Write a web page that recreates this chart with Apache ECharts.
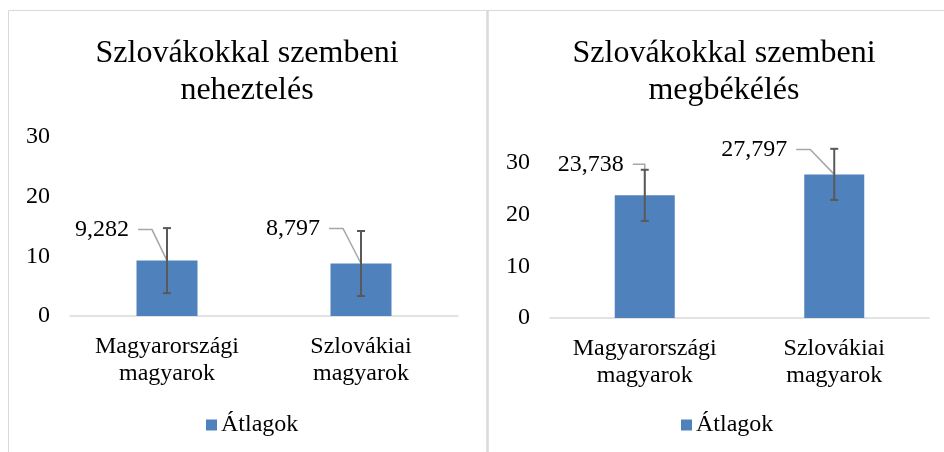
<!DOCTYPE html>
<html>
<head>
<meta charset="utf-8">
<script src="https://cdn.jsdelivr.net/npm/echarts@6/dist/echarts.min.js"></script>
<style>
html, body { margin: 0; padding: 0; background: #fff; }
#main { width: 944px; height: 452px; }
</style>
</head>
<body>
<div id="main"></div>
<script>
// adatok
var categories = ['Magyarországi\nmagyarok', 'Szlovákiai\nmagyarok'];
var yTicks = [0, 10, 20, 30];
var resentMeans = [9.282, 8.797];
var resentErrors = [5.45, 5.45];
var reconcileMeans = [23.738, 27.797];
var reconcileErrors = [4.95, 4.95];
var titles = ['Szlovákokkal szembeni\nneheztelés', 'Szlovákokkal szembeni\nmegbékélés'];
var seriesName = 'Átlagok';

// címkék eltolása az oszlop tetejéhez képest (px)
var labelOffsets = [
    [[-38, -31], [-41, -35]],
    [[-21, -31], [-47, -25]]
];

var FONT = '"Liberation Serif", "Times New Roman", serif';
var BAR_COLOR = '#4f81bd';

var chart = echarts.init(document.getElementById('main'));

function fmt(v) {
    return v.toFixed(3).replace('.', ',');
}

// hibasáv + adatcímke vezetővonallal
function makeRenderItem(offsets) {
    return function (params, api) {
        var idx = api.value(0);
        var mean = api.value(1);
        var err = api.value(2);
        var top = api.coord([idx, mean]);
        var hi = api.coord([idx, mean + err]);
        var lo = api.coord([idx, mean - err]);
        var off = offsets[params.dataIndex];
        var tx = top[0] + off[0];
        var ty = top[1] + off[1];
        var x1 = tx + 9;
        var x2 = Math.min(tx + 23, top[0]);
        var cap = 4;
        return {
            type: 'group',
            children: [
                {
                    type: 'polyline',
                    shape: {points: [[x1, ty], [x2, ty], [top[0], top[1]]]},
                    style: {stroke: '#a6a6a6', lineWidth: 1.5, fill: null}
                },
                {
                    type: 'line',
                    shape: {x1: hi[0], y1: hi[1], x2: lo[0], y2: lo[1]},
                    style: {stroke: '#595959', lineWidth: 2}
                },
                {
                    type: 'line',
                    shape: {x1: hi[0] - cap, y1: hi[1], x2: hi[0] + cap, y2: hi[1]},
                    style: {stroke: '#595959', lineWidth: 2}
                },
                {
                    type: 'line',
                    shape: {x1: lo[0] - cap, y1: lo[1], x2: lo[0] + cap, y2: lo[1]},
                    style: {stroke: '#595959', lineWidth: 2}
                },
                {
                    type: 'text',
                    x: tx,
                    y: ty,
                    style: {
                        text: fmt(mean),
                        font: '24px ' + FONT,
                        fill: '#000',
                        align: 'right',
                        verticalAlign: 'middle'
                    }
                }
            ]
        };
    };
}

function errData(means, errors) {
    return means.map(function (m, i) {
        return [i, m, errors[i]];
    });
}

function xAxisOpt(gridIndex) {
    return {
        type: 'category',
        gridIndex: gridIndex,
        data: categories,
        axisTick: {show: false},
        axisLine: {lineStyle: {color: '#d9d9d9', width: 1.5}},
        axisLabel: {
            color: '#000',
            fontSize: 24,
            fontFamily: FONT,
            lineHeight: 27,
            margin: 17,
            interval: 0
        }
    };
}

function yAxisOpt(gridIndex) {
    return {
        type: 'value',
        gridIndex: gridIndex,
        min: yTicks[0],
        max: yTicks[yTicks.length - 1],
        interval: 10,
        axisLine: {show: false},
        axisTick: {show: false},
        splitLine: {show: false},
        axisLabel: {color: '#000', fontSize: 24, fontFamily: FONT, margin: 20}
    };
}

function titleOpt(text, x) {
    return {
        text: text,
        left: x,
        top: 35,
        textAlign: 'center',
        padding: 0,
        textStyle: {
            fontFamily: FONT,
            fontWeight: 'normal',
            fontSize: 32,
            lineHeight: 37,
            color: '#000'
        }
    };
}

function legendOpt(x) {
    return {
        data: [seriesName],
        left: x,
        top: 413,
        padding: 0,
        itemWidth: 11,
        itemHeight: 11,
        itemGap: 5,
        icon: 'rect',
        textStyle: {fontFamily: FONT, fontSize: 24, color: '#000', padding: [0, 0, 0, -1]}
    };
}

var option = {
    animation: false,
    backgroundColor: '#fff',
    graphic: [
        {type: 'polyline', shape: {points: [[8.5, 460], [8.5, 10.5], [960, 10.5]]},
            style: {fill: null, stroke: '#d9d9d9', lineWidth: 1}, silent: true},
        {type: 'line', shape: {x1: 487.5, y1: 10, x2: 487.5, y2: 460},
            style: {stroke: '#d9d9d9', lineWidth: 2.5}, silent: true}
    ],
    title: [titleOpt(titles[0], 247), titleOpt(titles[1], 724)],
    legend: [legendOpt(206), legendOpt(681)],
    grid: [
        {left: 70, right: 486, top: 137, bottom: 136},
        {left: 550, right: 15, top: 163, bottom: 134}
    ],
    xAxis: [xAxisOpt(0), xAxisOpt(1)],
    yAxis: [yAxisOpt(0), yAxisOpt(1)],
    series: [
        {
            name: seriesName,
            type: 'bar',
            xAxisIndex: 0,
            yAxisIndex: 0,
            barWidth: 61,
            itemStyle: {color: BAR_COLOR},
            data: resentMeans
        },
        {
            name: 'hiba1',
            type: 'custom',
            xAxisIndex: 0,
            yAxisIndex: 0,
            renderItem: makeRenderItem(labelOffsets[0]),
            data: errData(resentMeans, resentErrors),
            z: 5
        },
        {
            name: seriesName,
            type: 'bar',
            xAxisIndex: 1,
            yAxisIndex: 1,
            barWidth: 60,
            itemStyle: {color: BAR_COLOR},
            data: reconcileMeans
        },
        {
            name: 'hiba2',
            type: 'custom',
            xAxisIndex: 1,
            yAxisIndex: 1,
            renderItem: makeRenderItem(labelOffsets[1]),
            data: errData(reconcileMeans, reconcileErrors),
            z: 5
        }
    ]
};

chart.setOption(option);
</script>
</body>
</html>
